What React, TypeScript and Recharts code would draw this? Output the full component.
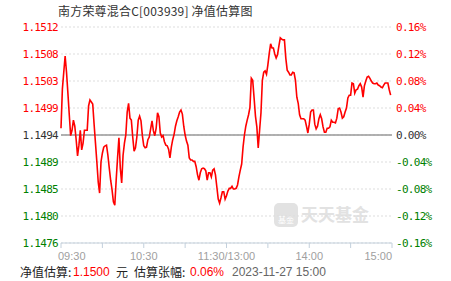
import React from 'react'
import { LineChart, Line, XAxis, YAxis, CartesianGrid, ReferenceLine } from 'recharts'

const title = '南方荣尊混合C[003939] 净值估算图'
const baseNav = 1.1494

// minutes since 09:30 (lunch break removed) for the axis ticks
const timeTicks = [0, 30, 60, 90, 120, 150, 180, 210, 240]
const timeLabels = ['09:30', '', '10:30', '', '11:30/13:00', '', '14:00', '', '15:00']
const pctTicks = [-0.16, -0.12, -0.08, -0.04, 0, 0.04, 0.08, 0.12, 0.16]

// estimated change vs. previous NAV, %, one value per minute
const pctValues = [
  0.010, 0.068, 0.093, 0.117, 0.093, 0.062, 0.030, -0.001, 0.007, 0.022,
  0.013, -0.007, -0.031, -0.015, 0.007, -0.022, -0.012, 0.007, 0.007, 0.007,
  0.043, 0.052, 0.049, 0.046, 0.016, -0.012, -0.040, -0.070, -0.086, -0.040,
  -0.027, -0.018, -0.016, -0.015, -0.030, -0.049, -0.067, -0.081, -0.099, -0.104,
  -0.067, -0.034, -0.004, -0.049, -0.071, -0.030, -0.012, 0.000, 0.034, 0.047,
  0.025, 0.022, -0.003, -0.024, -0.019, -0.003, 0.022, 0.028, 0.021, -0.001,
  -0.016, -0.019, -0.018, -0.007, -0.003, 0.009, 0.021, 0.006, -0.001, 0.010,
  0.033, 0.027, 0.003, -0.003, -0.001, -0.010, -0.015, -0.016, -0.021, -0.034,
  -0.018, -0.007, 0.001, 0.013, 0.021, 0.027, 0.034, 0.037, 0.031, 0.013,
  0.000, -0.009, -0.015, -0.034, -0.037, -0.037, -0.039, -0.039, -0.047, -0.059,
  -0.067, -0.056, -0.050, -0.049, -0.050, -0.053, -0.067, -0.056, -0.056, -0.062,
  -0.052, -0.050, -0.059, -0.077, -0.095, -0.101, -0.093, -0.084, -0.084, -0.095,
  -0.090, -0.083, -0.079, -0.079, -0.076, -0.080, -0.080, -0.079, -0.074, -0.062,
  -0.052, -0.043, -0.018, 0.000, 0.013, 0.022, 0.030, 0.041, 0.084, 0.081,
  0.055, 0.028, 0.012, -0.019, 0.007, 0.033, 0.081, 0.093, 0.095, 0.090,
  0.104, 0.121, 0.135, 0.129, 0.129, 0.120, 0.114, 0.119, 0.132, 0.144,
  0.142, 0.141, 0.141, 0.114, 0.096, 0.093, 0.089, 0.089, 0.093, 0.092,
  0.081, 0.056, 0.047, 0.030, 0.024, 0.024, 0.024, 0.022, 0.013, 0.003,
  0.016, 0.034, 0.037, 0.037, 0.016, 0.009, 0.013, 0.024, 0.030, 0.024,
  0.012, 0.004, 0.004, 0.010, 0.010, 0.012, 0.022, 0.019, 0.019, 0.018,
  0.025, 0.039, 0.040, 0.034, 0.025, 0.027, 0.034, 0.040, 0.055, 0.059,
  0.059, 0.077, 0.076, 0.062, 0.067, 0.068, 0.073, 0.076, 0.071, 0.056,
  0.073, 0.080, 0.086, 0.087, 0.084, 0.080, 0.077, 0.076, 0.076, 0.077,
  0.074, 0.073, 0.071, 0.070, 0.074, 0.077, 0.077, 0.077, 0.067, 0.059,
]

const footerNav = '1.1500'
const footerPct = '0.06%'
const footerTime = '2023-11-27 15:00'

const data = pctValues.map((v, i) => ({ t: i, pct: v }))

const RED = '#ff0000'
const GREEN = '#008000'
const DARK = '#333333'
const numFont = '"DejaVu Sans Mono", monospace'
const cjkFont = '"Noto Sans CJK SC", sans-serif'

function colorFor(v: number) {
  if (v > 0.0001) return RED
  if (v < -0.0001) return GREEN
  return DARK
}

function NavTick({ y, payload }: any) {
  const v = payload.value
  return (
    <text x={58} y={y + 4} textAnchor="end" fill={colorFor(v)} fontSize={11} fontFamily={numFont} letterSpacing={-0.7}>
      {(baseNav * (1 + v / 100)).toFixed(4)}
    </text>
  )
}

function PctTick({ y, payload }: any) {
  const v = payload.value
  return (
    <text x={396} y={y + 4} textAnchor="start" fill={colorFor(v)} fontSize={11} fontFamily={numFont} letterSpacing={-0.7}>
      {v.toFixed(2) + '%'}
    </text>
  )
}

function TimeTick({ x, payload }: any) {
  const i = timeTicks.indexOf(payload.value)
  const label = timeLabels[i]
  if (!label) return null
  let anchor: 'start' | 'middle' | 'end' = 'middle'
  let tx = x
  if (i === 0) { anchor = 'start'; tx = x - 3 }
  if (i === timeTicks.length - 1) { anchor = 'end'; tx = x }
  return (
    <text x={tx} y={260} textAnchor={anchor} fill="#a0a0a0" fontSize={11} fontFamily='"Liberation Sans", Arial, sans-serif'>
      {label}
    </text>
  )
}

export default function App() {
  return (
    <div style={{ position: 'absolute', left: 0, top: 0, width: 451, height: 281, background: '#fff', overflow: 'hidden' }}>
      <div style={{ position: 'absolute', left: 58, top: 3, fontSize: 12, lineHeight: '16px', color: DARK, fontFamily: cjkFont, whiteSpace: 'pre', letterSpacing: 0.2 }}>
        {title}
      </div>

      {/* watermark */}
      <div style={{ position: 'absolute', left: 274, top: 203, width: 24, height: 24, borderRadius: 5, background: '#e2e2e2', color: '#fff', fontSize: 8, lineHeight: '10px', fontFamily: cjkFont, textAlign: 'center', paddingTop: 12, boxSizing: 'border-box' }}>
        基金
      </div>
      <div style={{ position: 'absolute', left: 301, top: 203, fontSize: 17, lineHeight: '22px', color: '#e2e2e2', fontFamily: cjkFont, fontWeight: 700 }}>
        天天基金
      </div>

      <div style={{ position: 'absolute', left: 0, top: 0 }}>
        <LineChart width={451} height={281} data={data} margin={{ top: 27, right: 0, bottom: 18, left: 0 }}>
          <CartesianGrid yAxisId="nav" vertical={false} stroke="#dddddd" strokeDasharray="2 2" />
          <XAxis
            dataKey="t"
            type="number"
            domain={[0, 240]}
            ticks={timeTicks}
            height={20}
            stroke="#c3d0dc"
            tickSize={5}
            tick={<TimeTick />}
            interval={0}
          />
          <YAxis
            yAxisId="nav"
            domain={[-0.16, 0.16]}
            ticks={pctTicks}
            width={61}
            axisLine={false}
            tickLine={false}
            tick={<NavTick />}
            interval={0}
          />
          <YAxis
            yAxisId="pct"
            orientation="right"
            domain={[-0.16, 0.16]}
            ticks={pctTicks}
            width={59}
            axisLine={false}
            tickLine={false}
            tick={<PctTick />}
            interval={0}
          />
          <ReferenceLine yAxisId="nav" y={0} stroke="#999999" strokeWidth={1.3} />
          <Line yAxisId="pct" dataKey="pct" stroke="none" dot={false} isAnimationActive={false} />
          <Line yAxisId="nav" type="linear" dataKey="pct" stroke={RED} strokeWidth={1.6} dot={false} isAnimationActive={false} />
        </LineChart>
      </div>

      <div style={{ position: 'absolute', left: 0, top: 264, width: 451, height: 16, fontSize: 12, lineHeight: '16px', whiteSpace: 'pre' }}>
        <span style={{ position: 'absolute', left: 20, color: '#222', fontFamily: cjkFont }}>净值估算:</span>
        <span style={{ position: 'absolute', left: 73, color: RED, fontFamily: '"Liberation Sans", Arial, sans-serif' }}>{footerNav}</span>
        <span style={{ position: 'absolute', left: 116, color: '#222', fontFamily: cjkFont }}>元</span>
        <span style={{ position: 'absolute', left: 134, color: '#222', fontFamily: cjkFont }}>估算张幅:</span>
        <span style={{ position: 'absolute', left: 190, color: RED, fontFamily: '"Liberation Sans", Arial, sans-serif' }}>{footerPct}</span>
        <span style={{ position: 'absolute', left: 232, color: '#666', fontFamily: '"Liberation Sans", Arial, sans-serif' }}>{footerTime}</span>
      </div>
    </div>
  )
}
